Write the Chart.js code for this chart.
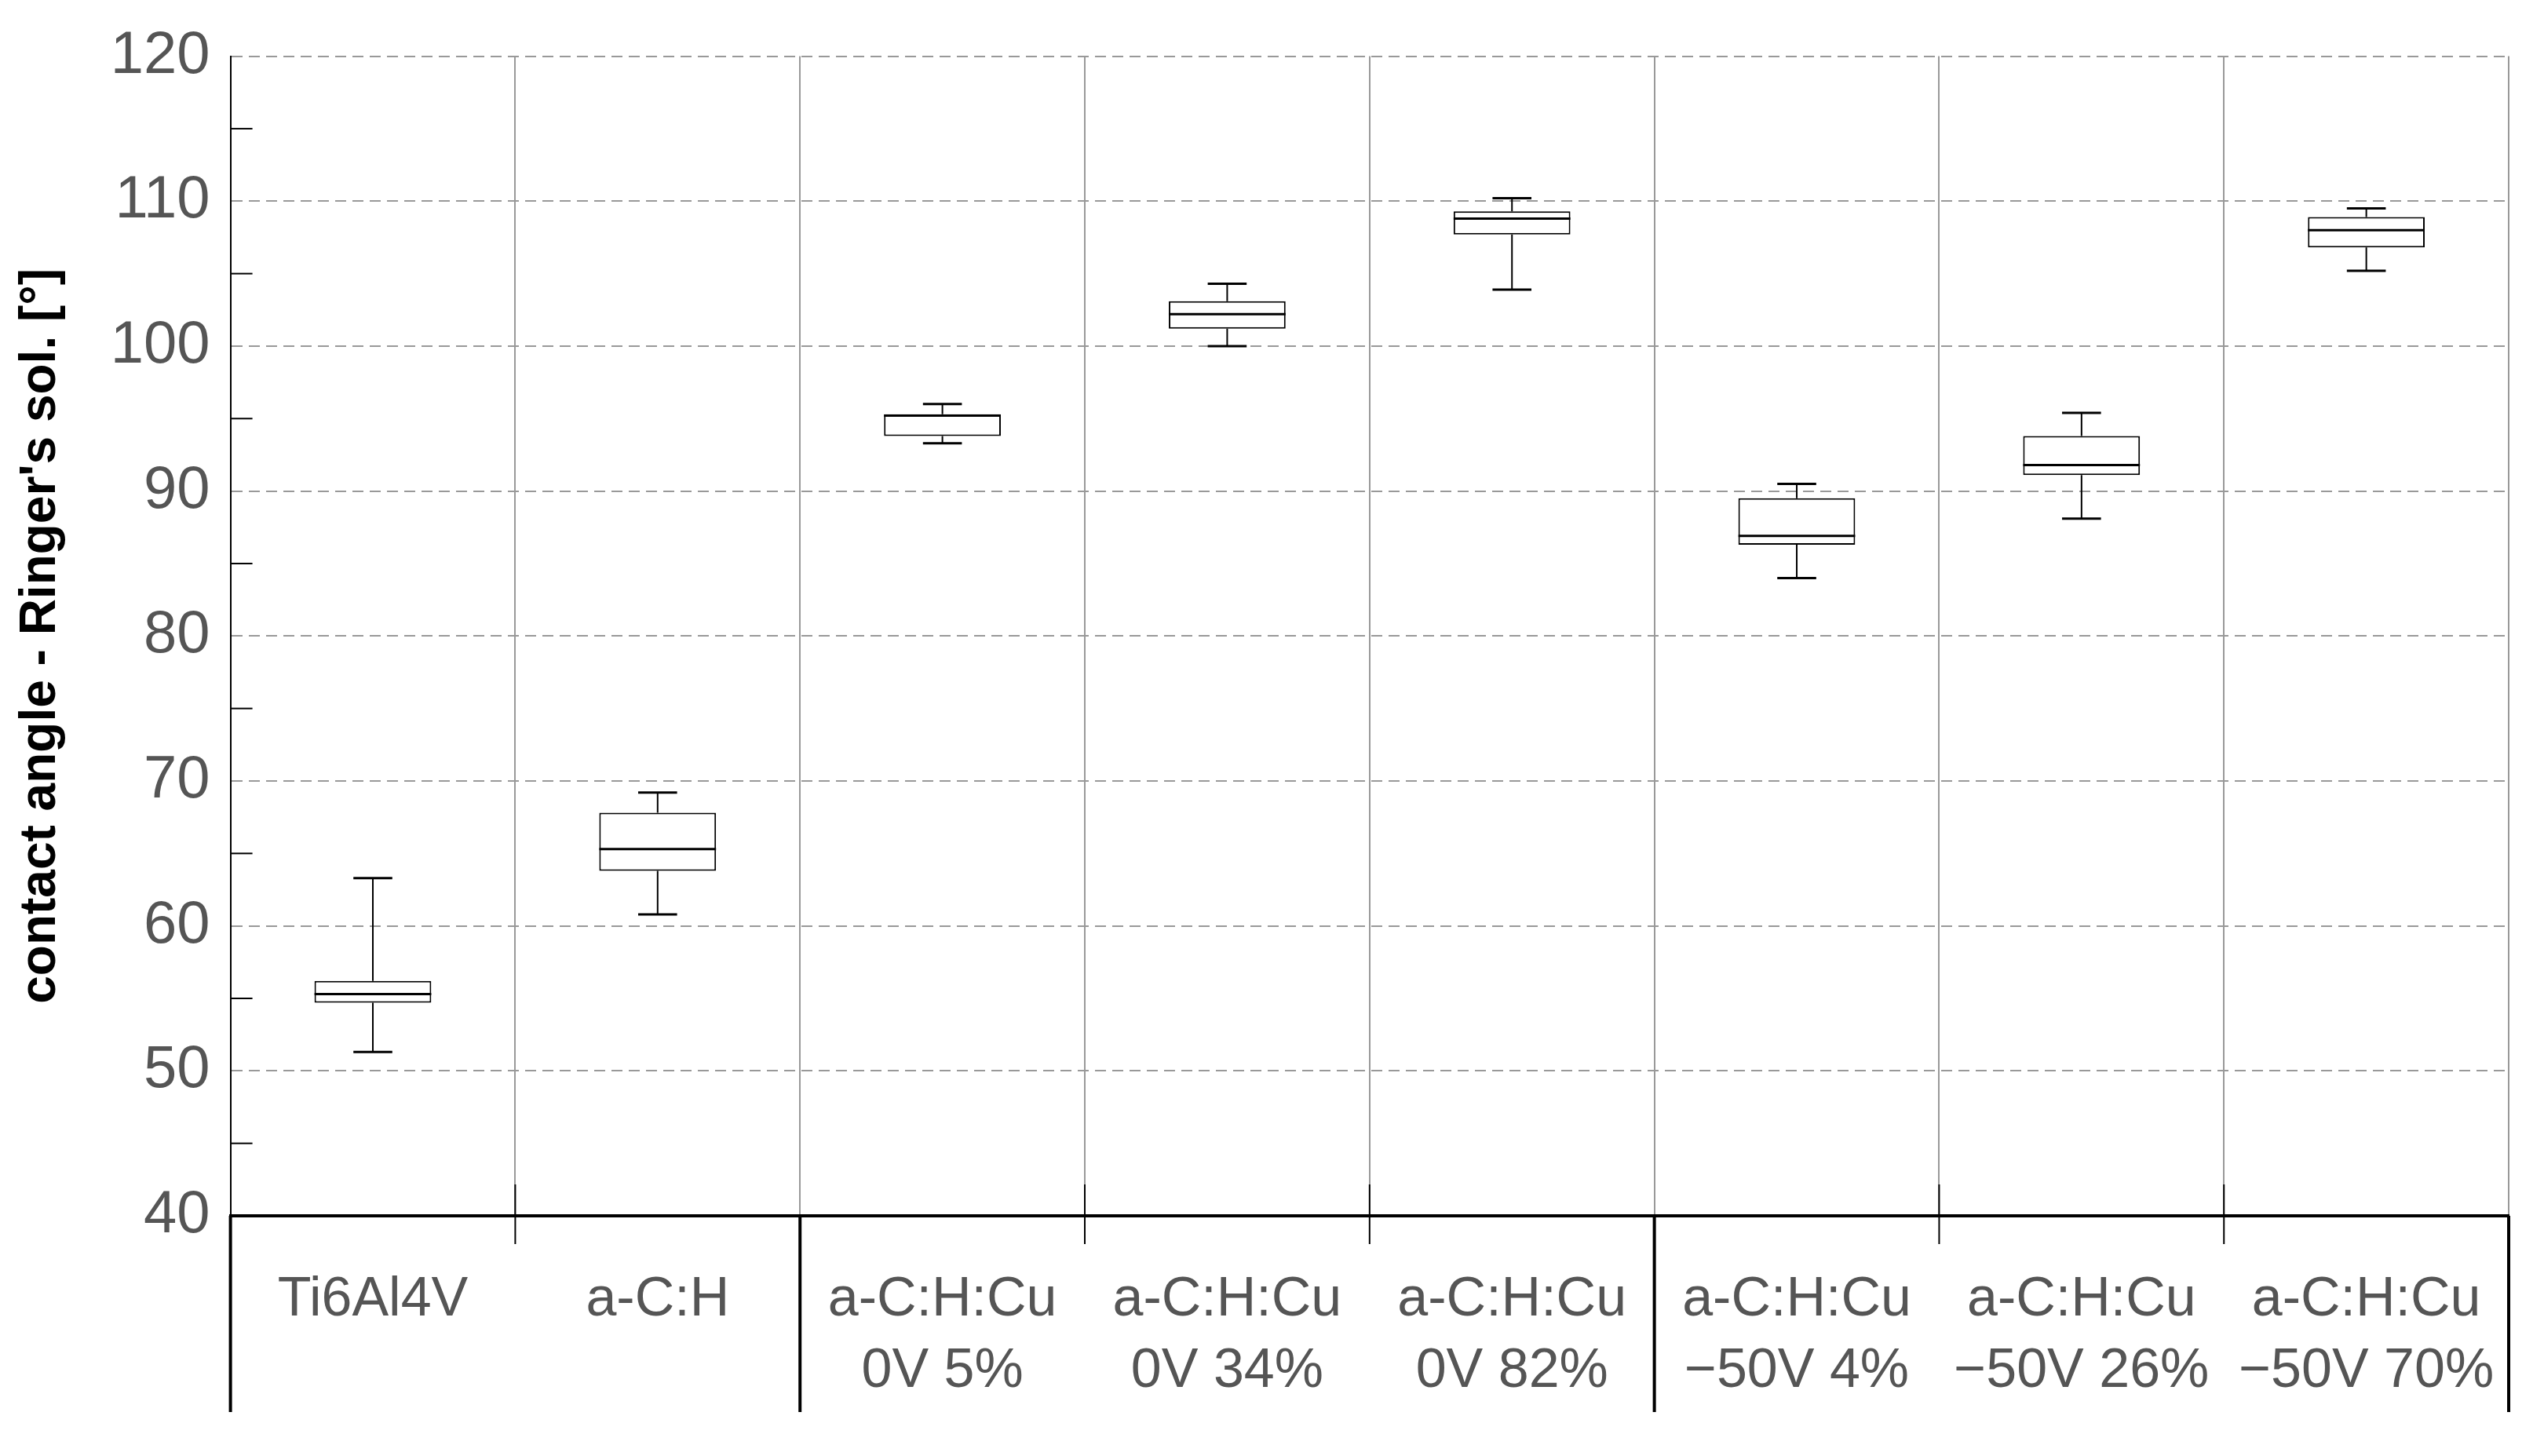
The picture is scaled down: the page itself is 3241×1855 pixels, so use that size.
<!DOCTYPE html>
<html>
<head>
<meta charset="utf-8">
<script src="https://cdn.jsdelivr.net/npm/chart.js@4"></script>
<style>body{margin:0;background:#fff}canvas{display:block}</style>
</head>
<body>
<canvas id="chartAngle" width="3241" height="1855"></canvas>
<script>
var categories = [['Ti6Al4V'], ['a-C:H'], ['a-C:H:Cu', '0V 5%'], ['a-C:H:Cu', '0V 34%'], ['a-C:H:Cu', '0V 82%'],
  ['a-C:H:Cu', '\u221250V 4%'], ['a-C:H:Cu', '\u221250V 26%'], ['a-C:H:Cu', '\u221250V 70%']]
var whiskerMin = [51.3, 60.8, 93.3, 100.0, 103.9, 84.0, 88.1, 105.2]
var q1 = [54.7, 63.8, 93.8, 101.2, 107.7, 86.3, 91.1, 106.8]
var median = [55.3, 65.3, 95.2, 102.2, 108.8, 86.9, 91.8, 108.0]
var q3 = [56.2, 67.8, 95.3, 103.1, 109.3, 89.5, 93.8, 108.9]
var whiskerMax = [63.3, 69.2, 96.0, 104.3, 110.2, 90.5, 95.4, 109.5]
var groupEdges = [0, 2, 5, 8] // separators below the axis, in category index units

var boxes = q1.map(function (v, i) { return [v, q3[i]] })

// whiskers, caps, medians and the category separators
var boxPlot = {
  id: 'boxPlot',
  afterDatasetsDraw: function (chart) {
    var ctx = chart.ctx, x = chart.scales.x, y = chart.scales.y
    var meta = chart.getDatasetMeta(0)
    ctx.save()
    ctx.strokeStyle = '#000'
    meta.data.forEach(function (bar, i) {
      var cx = bar.x, hw = bar.width / 2, cap = bar.width / 6
      ctx.lineWidth = 2
      ctx.beginPath()
      ctx.moveTo(cx, y.getPixelForValue(q3[i])); ctx.lineTo(cx, y.getPixelForValue(whiskerMax[i]))
      ctx.moveTo(cx, y.getPixelForValue(q1[i])); ctx.lineTo(cx, y.getPixelForValue(whiskerMin[i]))
      ctx.stroke()
      ctx.lineWidth = 3
      ctx.beginPath()
      ctx.moveTo(cx - cap, y.getPixelForValue(whiskerMax[i])); ctx.lineTo(cx + cap, y.getPixelForValue(whiskerMax[i]))
      ctx.moveTo(cx - cap, y.getPixelForValue(whiskerMin[i])); ctx.lineTo(cx + cap, y.getPixelForValue(whiskerMin[i]))
      ctx.moveTo(cx - hw, y.getPixelForValue(median[i])); ctx.lineTo(cx + hw, y.getPixelForValue(median[i]))
      ctx.stroke()
    })
    var step = (x.getPixelForValue(1) - x.getPixelForValue(0))
    var bottom = y.bottom
    ctx.lineWidth = 4
    groupEdges.forEach(function (g) {
      var px = x.getPixelForValue(0) + (g - 0.5) * step
      ctx.beginPath(); ctx.moveTo(px, bottom); ctx.lineTo(px, bottom + 250); ctx.stroke()
    })
    ctx.lineWidth = 2
    for (var k = 1; k < 8; k++) {
      if (groupEdges.indexOf(k) >= 0) continue
      var px2 = x.getPixelForValue(0) + (k - 0.5) * step
      ctx.beginPath(); ctx.moveTo(px2, bottom - 40); ctx.lineTo(px2, bottom + 36); ctx.stroke()
    }
    // minor ticks on the y axis
    for (var v = 45; v < 120; v += 10) {
      var py = y.getPixelForValue(v)
      ctx.beginPath(); ctx.moveTo(y.right, py); ctx.lineTo(y.right + 28, py); ctx.stroke()
    }
    ctx.restore()
  }
}

new Chart(document.getElementById('chartAngle').getContext('2d'), {
  type: 'bar',
  data: {
    labels: categories,
    datasets: [
      {
        label: 'contact angle',
        data: boxes,
        backgroundColor: '#fff',
        borderColor: '#000',
        borderWidth: 2,
        borderSkipped: false,
        barPercentage: 0.41,
        categoryPercentage: 1,
      },
    ],
  },
  options: {
    responsive: false,
    devicePixelRatio: 1,
    animation: false,
    layout: { padding: { top: 34, right: 30, left: 10, bottom: 0 } },
    plugins: { legend: { display: false }, tooltip: { enabled: false } },
    scales: {
      x: {
        offset: true,
        grid: { offset: true, color: '#999', lineWidth: 2, drawTicks: false },
        border: { color: '#000', width: 4 },
        ticks: { color: '#555', padding: 62, maxRotation: 0, autoSkip: false, font: { family: 'Liberation Sans', size: 70, lineHeight: 1.3 } },
      },
      y: {
        min: 40,
        max: 120,
        grid: {
          color: function (c) { return c.tick.value % 10 === 0 ? '#999' : '#ddd' },
          lineWidth: 2,
          drawTicks: false,
        },
        border: { color: '#000', width: 2, dash: [14, 8] },
        ticks: {
          stepSize: 5,
          color: '#555',
          padding: 26,
          font: { family: 'Liberation Sans', size: 76 },
          callback: function (v) { return v % 10 === 0 ? v : '' },
        },
        title: {
          display: true,
          text: "contact angle - Ringer's sol. [\u00b0]",
          color: '#000',
          font: { family: 'Liberation Sans', size: 64, weight: 'bold' },
          padding: { bottom: 24 },
        },
      },
    },
  },
  plugins: [boxPlot],
})
</script>
</body>
</html>
